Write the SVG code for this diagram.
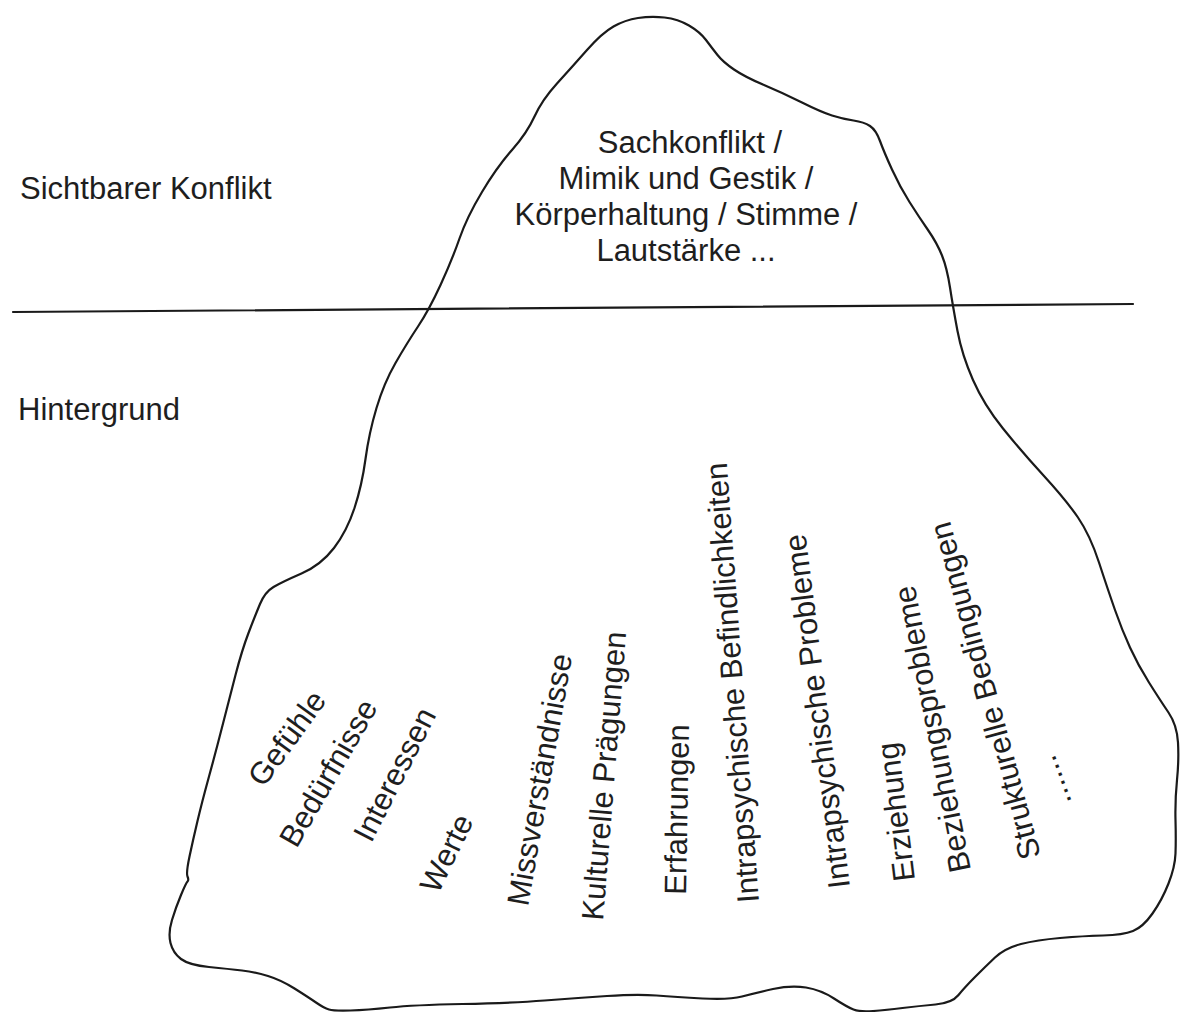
<svg xmlns="http://www.w3.org/2000/svg" width="1181" height="1012" viewBox="0 0 1181 1012">
<style>
.t{font-family:"Liberation Sans",Arial,sans-serif;font-size:31px;fill:#1e1e1e}
.m{text-anchor:middle}
.line{fill:none;stroke:#1a1a1a;stroke-width:2.2;stroke-linejoin:round;stroke-linecap:round}
</style>
<rect width="1181" height="1012" fill="#ffffff"/>
<g id="iceberg">
<path class="line" d="M638,18 Q651,16 664.5,17.5 Q678,19 689,25.5 Q700,32 706,40 Q712,48 717.5,55 Q723,62 734,69.5 Q745,77 764,85 Q783,93 802,102.5 Q821,112 832,115.5 Q843,119 853.5,120.5 Q864,122 870,126 Q876,130 880,141 Q884,152 892,169.5 Q900,187 909.5,202 Q919,217 928,230 Q937,243 942,255.5 Q947,268 950,287.5 Q953,307 957.5,331 Q962,355 973,380 Q984,405 1003,428.5 Q1022,452 1044,476 Q1066,500 1078,517.5 Q1090,535 1099,562.5 Q1108,590 1115,610 Q1122,630 1130,647.5 Q1138,665 1149,682.5 Q1160,700 1168.5,712.5 Q1177,725 1178,742.5 Q1179,760 1177,780 Q1175,800 1175.5,820 Q1176,840 1175.5,853.5 Q1175,867 1168.5,883.5 Q1162,900 1152.5,913.5 Q1143,927 1133,931 Q1123,935 1103,935.5 Q1083,936 1060,938 Q1037,940 1021,944 Q1005,948 995,957.5 Q985,967 975,977 Q965,987 958.5,995 Q952,1003 935.5,1004.5 Q919,1006 902.5,1008 Q886,1010 873,1011 Q860,1012 853.5,1009.5 Q847,1007 834,998.5 Q821,990 806,987.5 Q791,985 773,989 Q755,993 742,996.5 Q729,1000 702.5,998.5 Q676,997 656.5,995.5 Q637,994 607,996 Q577,998 544.5,1000.5 Q512,1003 462.5,1004 Q413,1005 390,1007.5 Q367,1010 350.5,1010.5 Q334,1011 329,1009.5 Q324,1008 316,1002.5 Q308,997 294.5,988.5 Q281,980 268,976 Q255,972 242,970.5 Q229,969 209,967 Q189,965 181,959 Q173,953 170.5,943 Q168,933 172,920 Q176,907 181,895 Q186,883 187.5,881.5 Q189,880 187.5,876.5 Q186,873 189.5,856.5 Q193,840 197.5,821 Q202,802 209,776.5 Q216,751 222.5,725.5 Q229,700 235.5,675 Q242,650 248.5,633 Q255,616 260,604 Q265,592 273.5,587 Q282,582 301.5,573.5 Q321,565 334,548 Q347,531 354.5,508 Q362,485 365.5,459 Q369,433 376.5,408 Q384,383 395.5,363 Q407,343 418,326.5 Q429,310 440.5,285 Q452,260 459.5,238.5 Q467,217 482,192 Q497,167 512,150 Q527,133 534.5,116.5 Q542,100 557,83.5 Q572,67 587,50 Q602,33 613.5,26.5 Q625,20 638,18 Z"/>
</g>
<g id="connectors">
<line class="line" x1="13" y1="312" x2="1133" y2="304" stroke-width="2.6"/>
</g>
<g id="label-sichtbar"><text class="t" x="20" y="199">Sichtbarer Konflikt</text></g>
<g id="label-hintergrund"><text class="t" x="18" y="420">Hintergrund</text></g>
<g id="node-top">
<text class="t m" x="690" y="153">Sachkonflikt /</text>
<text class="t m" x="686" y="189">Mimik und Gestik /</text>
<text class="t m" x="686" y="225">Körperhaltung / Stimme /</text>
<text class="t m" x="686" y="261">Lautstärke ...</text>
</g>
<g id="node-gefuehle"><text class="t m" transform="translate(295.5,744.6) rotate(-54)">Gefühle</text></g>
<g id="node-beduerfnisse"><text class="t m" transform="translate(337.5,778.3) rotate(-60)">Bedürfnisse</text></g>
<g id="node-interessen"><text class="t m" transform="translate(404,779.2) rotate(-63)">Interessen</text></g>
<g id="node-werte"><text class="t m" transform="translate(456,858) rotate(-64)">Werte</text></g>
<g id="node-missverstaendnisse"><text class="t" transform="translate(528,907) rotate(-80)">Missverständnisse</text></g>
<g id="node-kulturelle"><text class="t" transform="translate(603,921) rotate(-85.4)">Kulturelle Prägungen</text></g>
<g id="node-erfahrungen"><text class="t" transform="translate(686,895) rotate(-89)">Erfahrungen</text></g>
<g id="node-befindlichkeiten"><text class="t" font-size="31.5" transform="translate(759,902) rotate(-94.2)">Intrapsychische Befindlichkeiten</text></g>
<g id="node-probleme"><text class="t" transform="translate(850,887) rotate(-97.2)">Intrapsychische Probleme</text></g>
<g id="node-erziehung"><text class="t" transform="translate(915,880) rotate(-97)">Erziehung</text></g>
<g id="node-beziehung"><text class="t" transform="translate(971,870) rotate(-101.2)">Beziehungsprobleme</text></g>
<g id="node-strukturelle"><text class="t" transform="translate(1041,856) rotate(-105.2)">Strukturelle Bedingungen</text></g>
<g id="node-dots"><text class="t" transform="translate(1072,802) rotate(-110)">......</text></g>
</svg>
